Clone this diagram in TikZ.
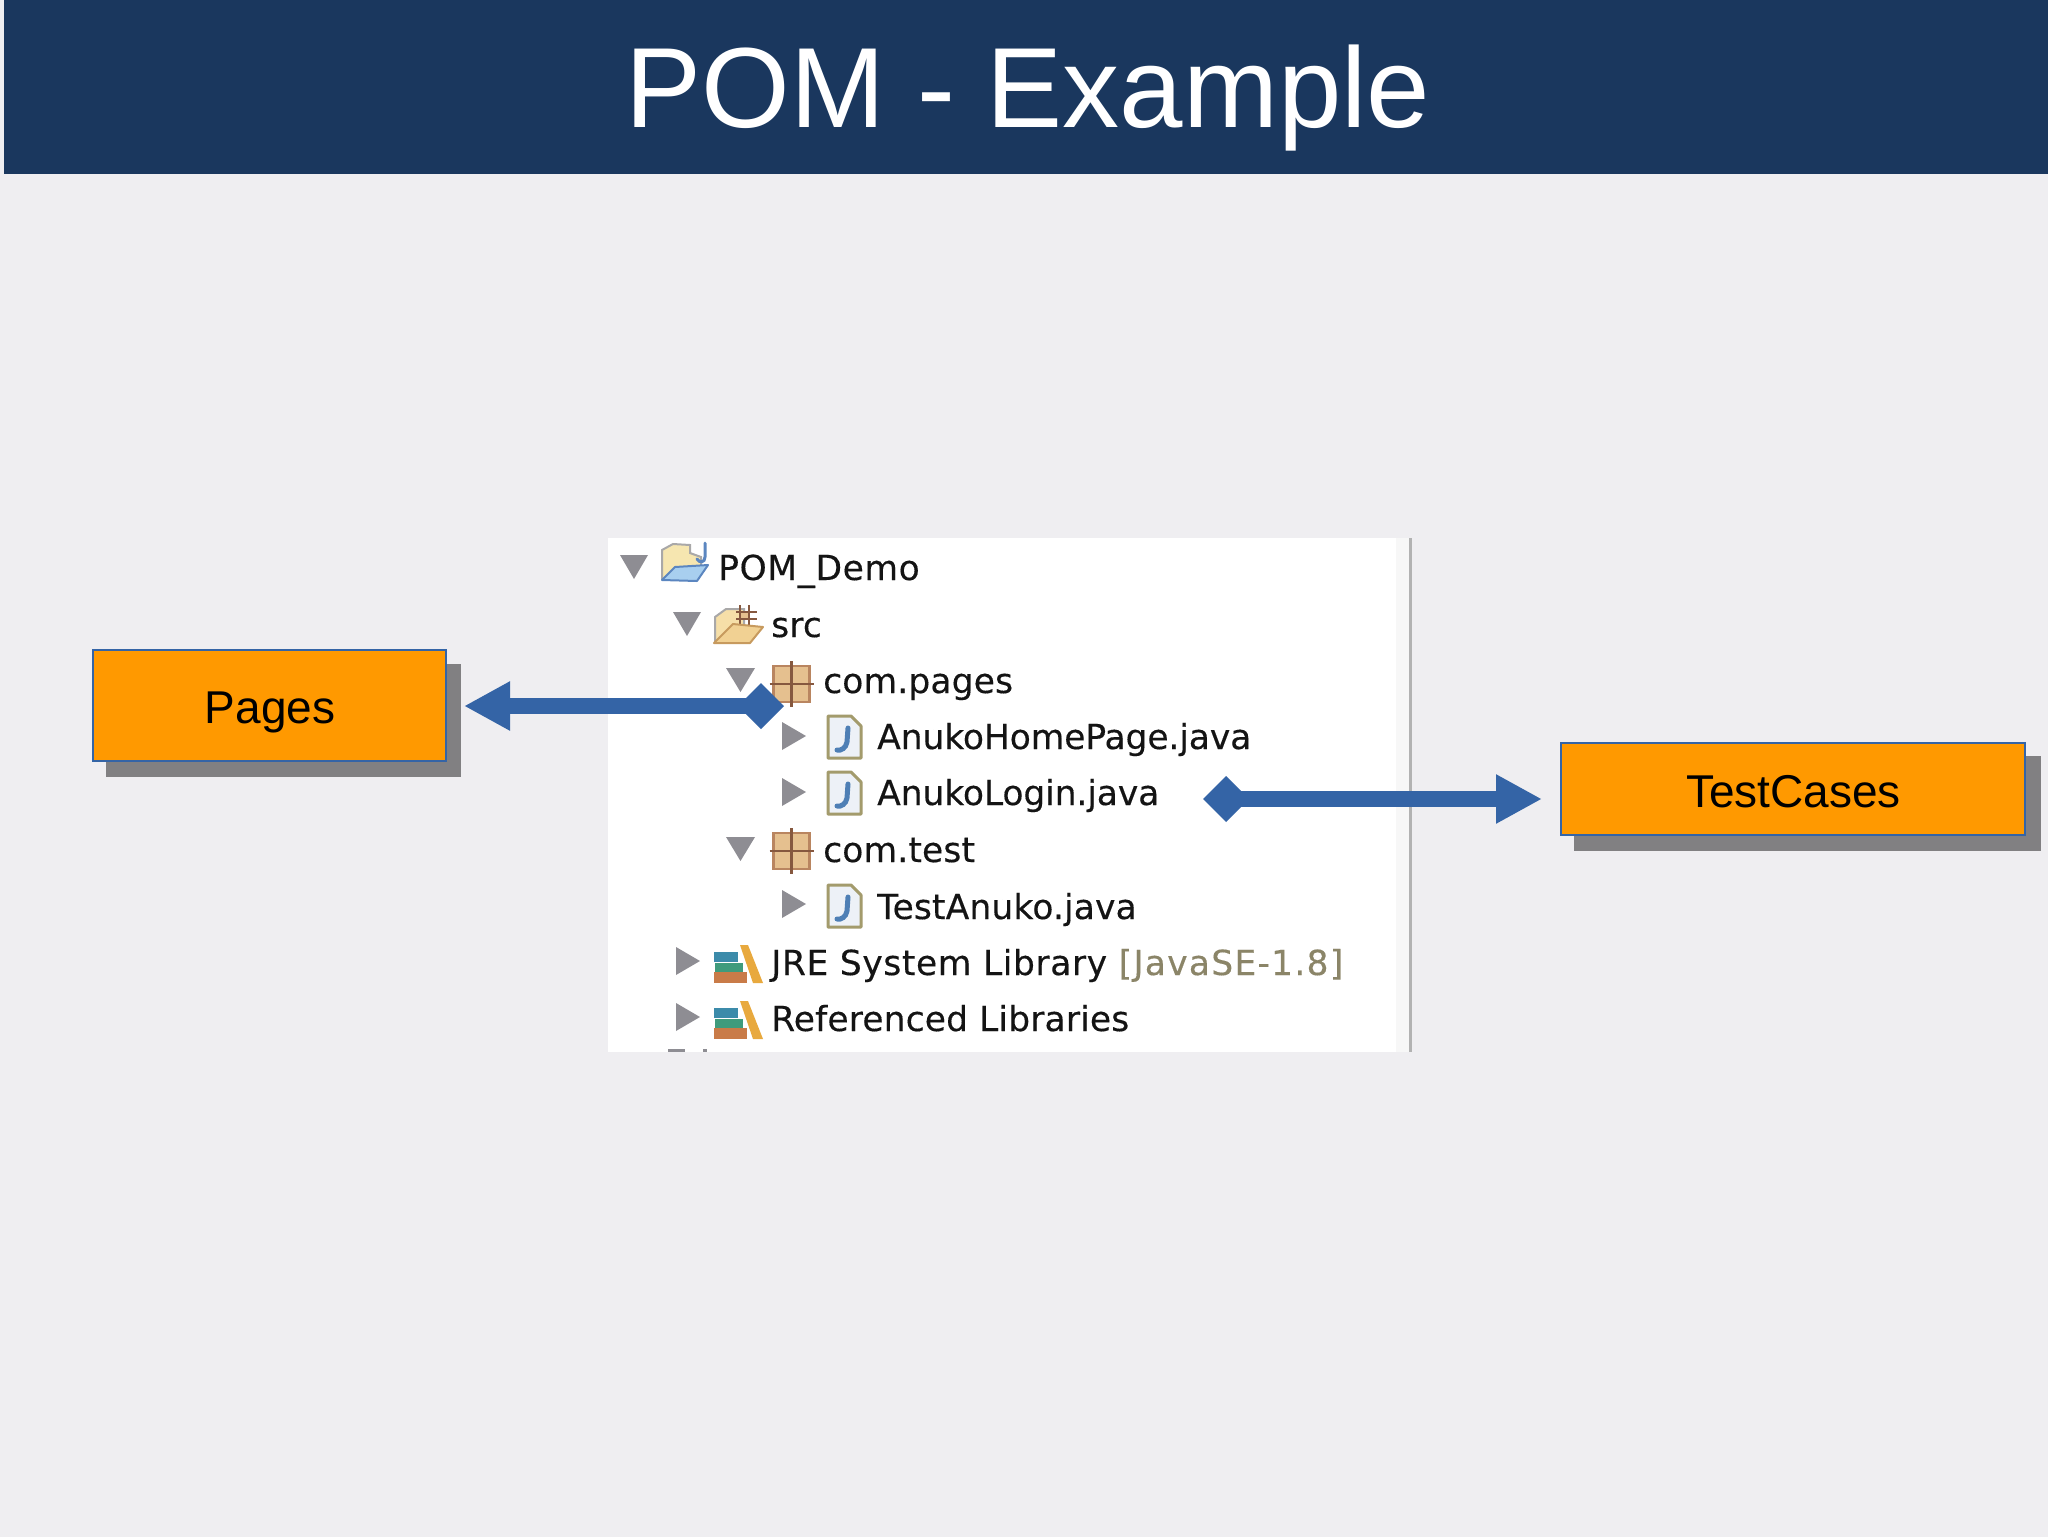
\documentclass[tikz,border=0pt]{standalone}
\usepackage{fontspec}
\setmainfont{Liberation Sans}
\newfontfamily\treefont[LetterSpace=0.4,FakeBold=0.3]{DejaVu Sans}
\newfontfamily\treetight[LetterSpace=-0.3,FakeBold=0.3]{DejaVu Sans}
\newfontfamily\treewide[LetterSpace=1.7,FakeBold=0.3]{DejaVu Sans}
\newfontfamily\treebracket[LetterSpace=3.6,FakeBold=0.3]{DejaVu Sans}
\usetikzlibrary{arrows.meta}
\definecolor{bgc}{HTML}{EFEEF1}
\definecolor{headc}{HTML}{1A375E}
\definecolor{orangec}{HTML}{FF9900}
\definecolor{bluec}{HTML}{3464A6}
\definecolor{shadowc}{HTML}{818082}
\definecolor{trigc}{HTML}{8E8D93}
\definecolor{deco}{HTML}{8B8568}
\definecolor{fileline}{HTML}{A39B6C}
\definecolor{filefill}{HTML}{EDF1F7}
\definecolor{jblue}{HTML}{4E7FB5}
\definecolor{pkgfill}{HTML}{E5C08F}
\definecolor{pkgline}{HTML}{B98560}
\definecolor{pkgcross}{HTML}{86583F}
\definecolor{rodc}{HTML}{E8A93E}
\definecolor{booka}{HTML}{3C8BAA}
\definecolor{bookb}{HTML}{3F9B7C}
\definecolor{bookc}{HTML}{C97B48}
\definecolor{cream}{HTML}{F6E6B0}
\definecolor{foldline}{HTML}{A9A8A8}
\definecolor{frontblue}{HTML}{A8CFEF}
\definecolor{frontline}{HTML}{5B86C0}
\definecolor{tanfill}{HTML}{F6DFA8}
\definecolor{tanline}{HTML}{C79A5E}
\definecolor{tanfront}{HTML}{F1D193}
\tikzset{
  boxnode/.style={draw=bluec,line width=1.5pt,fill=orangec,inner sep=0pt,text=black,font=\fontsize{46}{50}\selectfont},
  shadowbox/.style={fill=shadowc,draw=none},
  treetext/.style={anchor=base west,inner sep=0pt,text=black!92,font=\treefont\fontsize{34.5}{40}\selectfont},
  treetexttight/.style={anchor=base west,inner sep=0pt,text=black!92,font=\treetight\fontsize{34.5}{40}\selectfont},
  treetextwide/.style={anchor=base west,inner sep=0pt,text=black!92,font=\treewide\fontsize{34.5}{40}\selectfont},
  link/.style={draw=bluec,line width=16pt,{Diamond[length=46pt,width=46pt,fill=bluec]}-{Triangle[length=46pt,width=46pt,fill=bluec]}},
  down/.style={fill=trigc,draw=none},
  javafile/.pic={
    \fill[filefill] (1,1)--(24,1)--(34,11)--(34,43)--(1,43)--cycle;
    \draw[fileline,line width=3pt,line join=round] (1,1)--(24,1)--(34,11)--(34,43)--(1,43)--cycle;
    \draw[jblue,line width=5pt,line cap=round] (21,13)--(20,27) .. controls (19,33) and (14,36) .. (10,35);
  },
  pkgicon/.pic={
    \fill[fill=pkgfill,draw=pkgline,line width=2.5pt] (-18,-18) rectangle (18,18);
    \draw[pkgcross,line width=2.5pt] (0,-23)--(0,23) (-22,0)--(22,0);
  },
  library/.pic={
    \fill[rodc] (26,-5) -- (34,-5) -- (49,33) -- (39,33) -- cycle;
    \fill[booka] (0,2) rectangle (24,12);
    \fill[bookb] (1,13) rectangle (29,22);
    \fill[bookc] (0,22) rectangle (33,33);
  },
  pomfolder/.pic={
    \fill[fill=cream,draw=foldline,line width=2pt] (1,36)--(1,7)--(12,1)--(29,2)--(29,10)--(40,14)--(40,24)--(30,36)--cycle;
    \fill[fill=frontblue,draw=frontline,line width=2pt,line join=round] (1,37)--(14,24)--(47,22)--(36,38)--cycle;
    \draw[frontline,line width=3pt,line cap=round] (44,0)--(44,14) .. controls (44,20) and (38,20) .. (36,16);
  },
  srcfolder/.pic={
    \fill[fill=tanfill,draw=foldline,line width=2pt] (1,34)--(1,10)--(12,2)--(30,2)--(30,18)--(20,34)--cycle;
    \fill[fill=pkgfill,draw=pkgcross,line width=1.5pt] (26,4.5) rectangle (35,12);
    \draw[pkgcross,line width=2pt] (26,-2)--(26,19) (35,-2)--(35,19) (22,4.5)--(43,4.5) (22,12)--(43,12);
    \fill[fill=tanfront,draw=tanline,line width=2pt,line join=round] (0,36)--(19,17)--(49,20)--(36,36)--cycle;
  }
}
\begin{document}
\begin{tikzpicture}[x=1pt,y=-1pt]
\useasboundingbox (0,0) rectangle (2048,1537);
\fill[bgc] (0,0) rectangle (2048,1537);
% header
\fill[headc] (4,0) rectangle (2048,174);
\node[anchor=base,inner sep=0pt,text=white,font=\fontsize{114}{120}\selectfont] (title) at (1028,127) {POM - Example};
% tree panel
\fill[white] (608,538) rectangle (1396,1052);
\fill[white!94!gray] (1396,538) rectangle (1409,1052);
\fill[gray!60] (1409,538) rectangle (1412,1052);
\fill[trigc] (668,1049) rectangle (685,1052);
\fill[trigc] (703,1049) rectangle (707,1052);
% triangles
\fill[down] (620,555)--(648,555)--(634,579)--cycle;
\fill[down] (673,612)--(701,612)--(687,636)--cycle;
\fill[down] (726,668)--(755,668)--(740.5,692)--cycle;
\fill[down] (726,837)--(755,837)--(740.5,861)--cycle;
\fill[down] (782,722)--(806,736)--(782,750)--cycle;
\fill[down] (782,778)--(806,792)--(782,806)--cycle;
\fill[down] (782,890)--(806,904)--(782,918)--cycle;
\fill[down] (676,947)--(700,961)--(676,975)--cycle;
\fill[down] (676,1003)--(700,1017)--(676,1031)--cycle;
% icons
\pic at (661,543) {pomfolder};
\pic at (714,607) {srcfolder};
\pic at (791.5,684) {pkgicon};
\pic at (791.5,851) {pkgicon};
\pic at (827,715) {javafile};
\pic at (827,771) {javafile};
\pic at (827,884) {javafile};
\pic at (714,950) {library};
\pic at (714,1006) {library};
% tree texts
\node[treetextwide] (t1) at (718,580) {POM\_Demo};
\node[treetext] (t2) at (771,637) {src};
\node[treetext] (t3) at (823,693) {com.pages};
\node[treetexttight] (t4) at (877,749) {AnukoHomePage.java};
\node[treetexttight] (t5) at (877,805) {AnukoLogin.java};
\node[treetext] (t6) at (823,862) {com.test};
\node[treetext] (t7) at (877,919) {TestAnuko.java};
\node[treetextwide] (t8) at (771,975) {JRE System Library \textcolor{deco}{\treebracket\fontsize{34.5}{40}\selectfont[JavaSE-1.8]}};
\node[treetext] (t9) at (771,1031) {Referenced Libraries};
% boxes
\fill[shadowbox] (106,664) rectangle (461,777);
\fill[shadowbox] (1574,756) rectangle (2040.5,851);
\node[boxnode,minimum width=353pt,minimum height=111pt] (pages) at (269.5,705.5) {};
\node[anchor=base,inner sep=0pt,font=\fontsize{46}{50}\selectfont] (pagest) at (270,723) {Pages};
\node[boxnode,minimum width=464pt,minimum height=92pt] (tests) at (1793,789) {};
\node[anchor=base,inner sep=0pt,font=\fontsize{46}{50}\selectfont] (testst) at (1793.5,807) {TestCases};
% connectors
\coordinate (a1) at (784,706);
\coordinate (a2) at (464,706);
\coordinate (b1) at (1203,799);
\coordinate (b2) at (1542,799);
\draw[link] (a1) -- (a2);
\draw[link] (b1) -- (b2);
\end{tikzpicture}
\end{document}
